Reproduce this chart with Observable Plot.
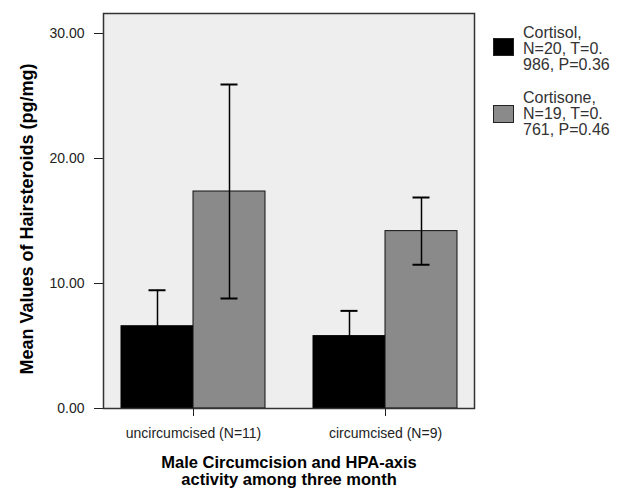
<!DOCTYPE html>
<html>
<head>
<meta charset="utf-8">
<script src="https://cdn.jsdelivr.net/npm/d3@7"></script>
<script src="https://cdn.jsdelivr.net/npm/@observablehq/plot@0.6"></script>
<style>
  body { margin: 0; background: #fff; font-family: "Liberation Sans", Arial, sans-serif; }
  #wrap { position: relative; width: 627px; height: 489px; overflow: hidden; }
  .lg-item { position: absolute; left: 493px; }
  .lg-swatch { position: absolute; left: 0; width: 19px; height: 16px; border: 1px solid #222; }
  .lg-text { position: absolute; left: 30px; font-size: 16px; line-height: 16px; color: #333; white-space: nowrap; }
</style>
</head>
<body>
<div id="wrap"></div>
<script>
// ---- data ----
const groups = ["uncircumcised (N=11)", "circumcised (N=9)"];
const series = ["Cortisol", "Cortisone"];
const cortisolMean = [6.58, 5.79];
const cortisolErr = [2.88, 2.02];
const cortisoneMean = [17.36, 14.19];
const cortisoneErr = [8.56, 2.69];
const yTicks = [0, 10, 20, 30];
const legendLabels = [
  ["Cortisol,", "N=20, T=0.", "986, P=0.36"],
  ["Cortisone,", "N=19, T=0.", "761, P=0.46"]
];
const seriesColors = ["#000000", "#8a8a8a"];
const yTitle = "Mean Values of Hairsteroids (pg/mg)";
const xTitle = "Male Circumcision and HPA-axis\nactivity among three month";

// ---- table ----
const rows = groups.flatMap((g, i) => [
  {group: g, series: series[0], mean: cortisolMean[i], err: cortisolErr[i]},
  {group: g, series: series[1], mean: cortisoneMean[i], err: cortisoneErr[i]}
]);
const sA = rows.filter(d => d.series === series[0]);
const sB = rows.filter(d => d.series === series[1]);

const half = 72;      // half of the group band (px)
const cap = 8.5;      // half cap width (px)

const plot = Plot.plot({
  width: 627,
  height: 489,
  marginLeft: 103,
  marginRight: 153,
  marginTop: 13,
  marginBottom: 81,
  style: {fontFamily: "'Liberation Sans', Arial, sans-serif", fontSize: "14px", color: "#222", background: "transparent"},
  x: {type: "band", domain: groups, paddingInner: 0.25, paddingOuter: 0.091},
  y: {domain: [0, 31.6]},
  marks: [
    Plot.frame({fill: "#eeeeee"}),
    Plot.barY(sA, {x: "group", y: "mean", fill: seriesColors[0], stroke: "#000", strokeWidth: 1, insetRight: half}),
    Plot.barY(sB, {x: "group", y: "mean", fill: seriesColors[1], stroke: "#111", strokeWidth: 1, insetLeft: half}),
    Plot.ruleX(sA, {x: "group", y1: d => d.mean - d.err, y2: d => d.mean + d.err, dx: -half / 2, stroke: "#000", strokeWidth: 1.5}),
    Plot.tickY(sA, {x: "group", y: d => d.mean + d.err, insetLeft: half / 2 - cap, insetRight: half * 1.5 - cap, stroke: "#000", strokeWidth: 2}),
    Plot.tickY(sA, {x: "group", y: d => d.mean - d.err, insetLeft: half / 2 - cap, insetRight: half * 1.5 - cap, stroke: "#000", strokeWidth: 2}),
    Plot.ruleX(sB, {x: "group", y1: d => d.mean - d.err, y2: d => d.mean + d.err, dx: half / 2, stroke: "#000", strokeWidth: 1.5}),
    Plot.tickY(sB, {x: "group", y: d => d.mean + d.err, insetLeft: half * 1.5 - cap, insetRight: half / 2 - cap, stroke: "#000", strokeWidth: 2}),
    Plot.tickY(sB, {x: "group", y: d => d.mean - d.err, insetLeft: half * 1.5 - cap, insetRight: half / 2 - cap, stroke: "#000", strokeWidth: 2}),
    Plot.frame({stroke: "#333", strokeWidth: 1.5}),
    Plot.axisX({tickSize: 8, tickPadding: 12, label: null, fontSize: 14, color: "#222"}),
    Plot.axisY({ticks: yTicks, tickFormat: d3.format(".2f"), tickSize: 9, tickPadding: 10, label: null, fontSize: 14, color: "#222"}),
    Plot.text([yTitle], {text: d => d, frameAnchor: "left", textAnchor: "middle", rotate: -90, dx: -76.5, dy: 8, fontWeight: "bold", fontSize: 18, fill: "#000"}),
    Plot.text([xTitle], {text: d => d, frameAnchor: "bottom", dy: 48, lineAnchor: "top", lineHeight: 1.02, fontWeight: "bold", fontSize: 16.5, fill: "#000"})
  ]
});

const wrap = document.getElementById("wrap");
wrap.appendChild(plot);

// ---- legend ----
const legendTops = [24.5, 89.5];
const swatchOffsets = [13.5, 15.5];
legendLabels.forEach((lines, i) => {
  const item = document.createElement("div");
  item.className = "lg-item";
  item.style.top = legendTops[i] + "px";
  const sw = document.createElement("div");
  sw.className = "lg-swatch";
  sw.style.top = swatchOffsets[i] + "px";
  sw.style.background = seriesColors[i];
  const tx = document.createElement("div");
  tx.className = "lg-text";
  tx.style.top = "0px";
  tx.innerHTML = lines.join("<br>");
  item.appendChild(sw);
  item.appendChild(tx);
  wrap.appendChild(item);
});
</script>
</body>
</html>
